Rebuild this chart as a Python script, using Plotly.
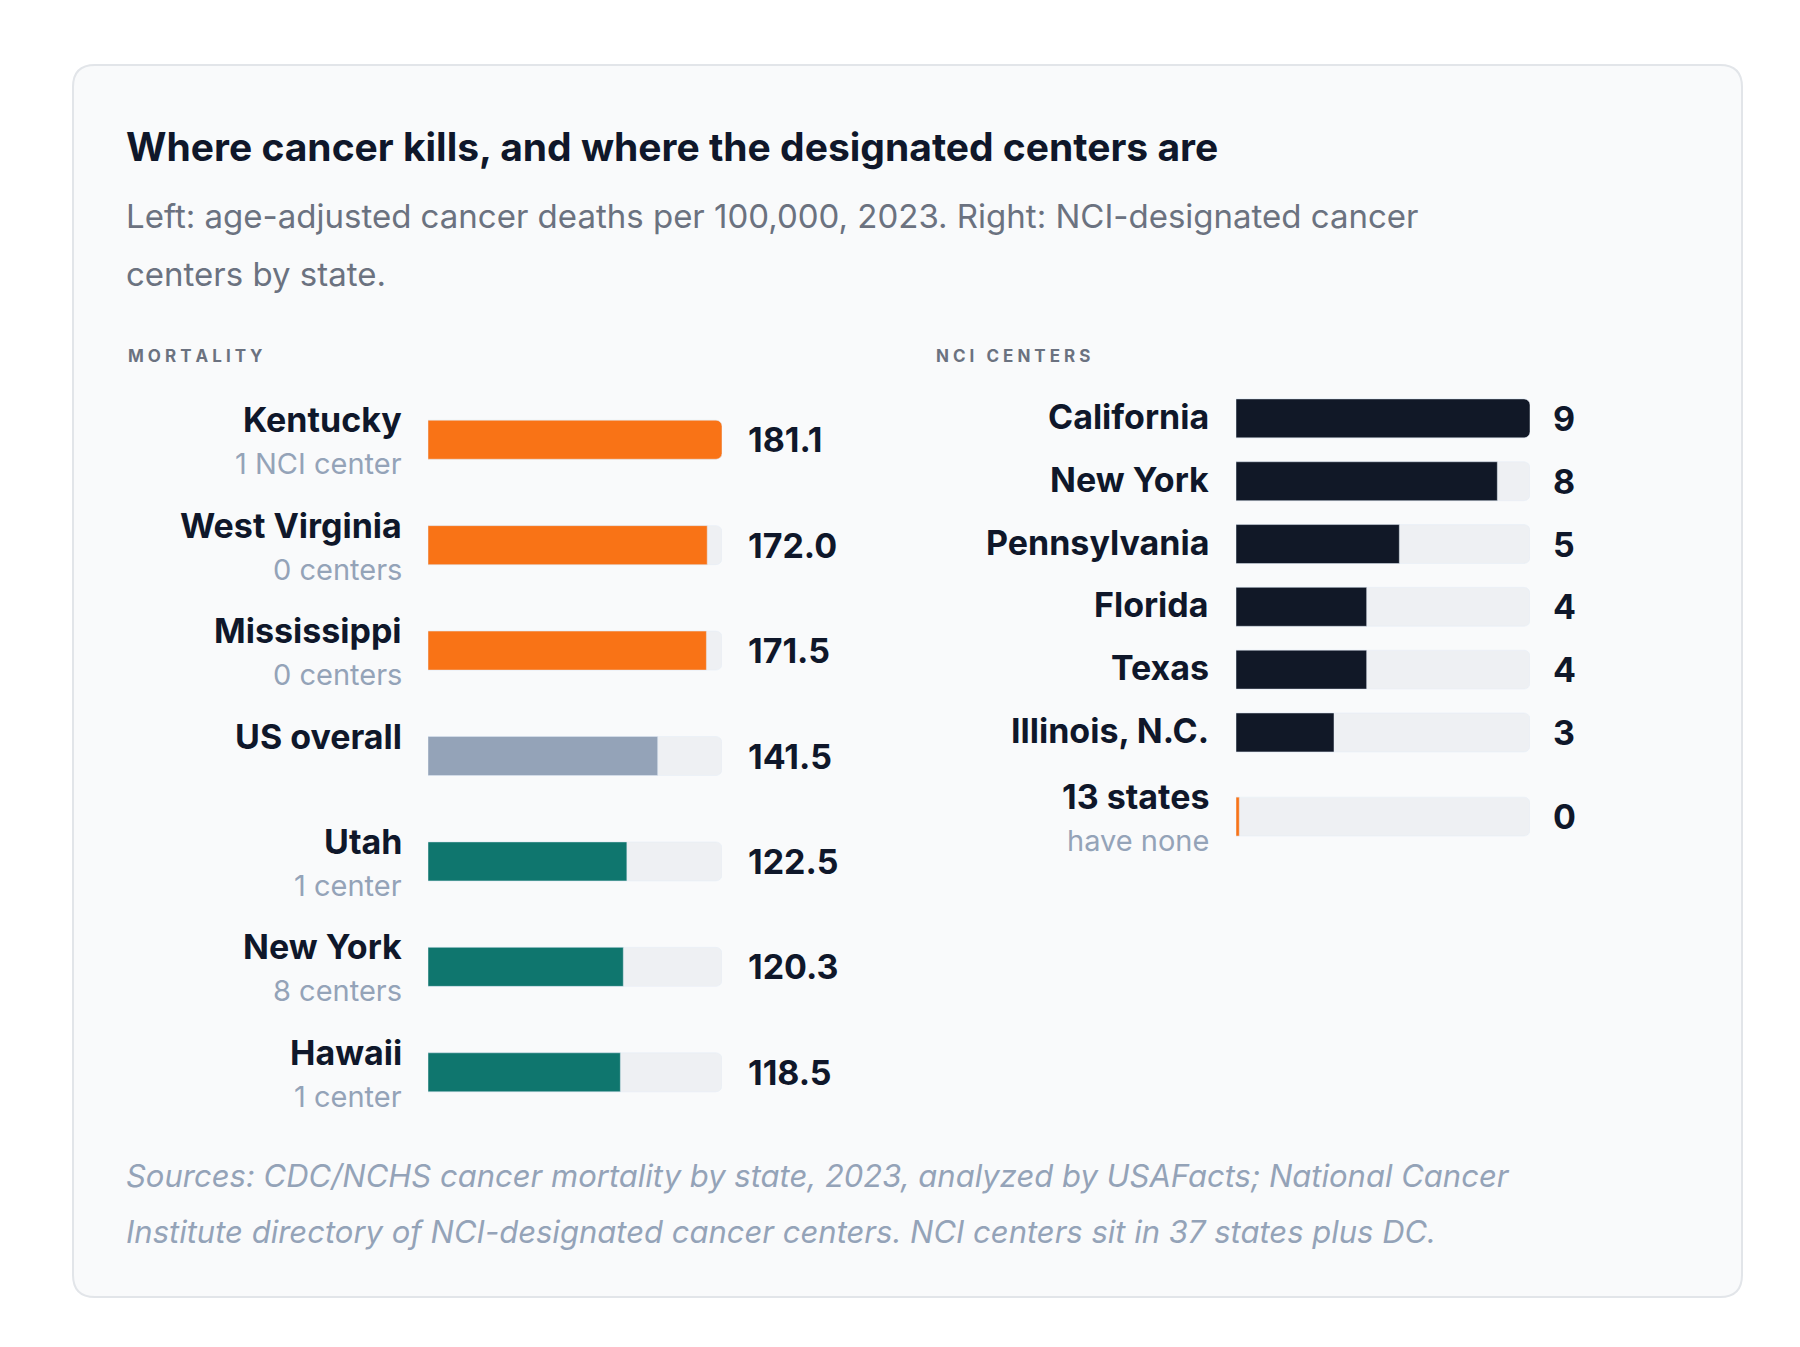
import plotly.graph_objects as go

W, H = 1800, 1347
F = "Inter, Noto Sans, sans-serif"

# ---- data ----
mort_states = ["Kentucky", "West Virginia", "Mississippi", "US overall", "Utah", "New York", "Hawaii"]
mort_sub = ["1 NCI center", "0 centers", "0 centers", "", "1 center", "8 centers", "1 center"]
mort_values = [181.1, 172.0, 171.5, 141.5, 122.5, 120.3, 118.5]
mort_groups = ["high", "high", "high", "us", "low", "low", "low"]

nci_states = ["California", "New York", "Pennsylvania", "Florida", "Texas", "Illinois, N.C.", "13 states"]
nci_sub = ["", "", "", "", "", "", "have none"]
nci_values = [9, 8, 5, 4, 4, 3, 0]
nci_max = 9

ORANGE, TEAL, GRAY, NAVY, TRACK = "#F97316", "#0F766E", "#94A3B8", "#111827", "#EEF0F3"
group_color = {"high": ORANGE, "us": GRAY, "low": TEAL}

def py(px):
    return 1 - px / H

fig = go.Figure()

# left panel
mort_max = max(mort_values)
fig.add_trace(go.Bar(x=[mort_max] * len(mort_states), y=mort_states, orientation="h",
                     marker=dict(color=TRACK, cornerradius=6), hoverinfo="skip",
                     xaxis="x", yaxis="y", showlegend=False))
fig.add_trace(go.Bar(x=mort_values, y=mort_states, orientation="h",
                     marker=dict(color=[group_color[g] for g in mort_groups], cornerradius=6),
                     xaxis="x", yaxis="y", showlegend=False))

# right panel positions: extra gap before last row
nci_pos = [i + (0.34 if i == len(nci_states) - 1 else 0) for i in range(len(nci_states))]
fig.add_trace(go.Bar(x=[nci_max] * len(nci_states), y=nci_pos, orientation="h", width=0.62,
                     marker=dict(color=TRACK, cornerradius=6), hoverinfo="skip",
                     xaxis="x2", yaxis="y2", showlegend=False))
nci_plot = [v if v > 0 else 0.1 for v in nci_values]
fig.add_trace(go.Bar(x=nci_plot, y=nci_pos, orientation="h", width=0.62,
                     marker=dict(color=[NAVY if v > 0 else ORANGE for v in nci_values], cornerradius=6),
                     xaxis="x2", yaxis="y2", showlegend=False))

ann = []
for s, sub, v in zip(mort_states, mort_sub, mort_values):
    off = -0.2 if sub else -0.2
    ann.append(dict(xref="paper", yref="y", x=396 / W, y=s, yshift=20, xanchor="right", yanchor="middle",
                    text=f"<b>{s}</b>", showarrow=False, font=dict(size=34, color="#0F172A", family=F)))
    if sub:
        ann.append(dict(xref="paper", yref="y", x=396 / W, y=s, yshift=-24, xanchor="right", yanchor="middle",
                        text=sub, showarrow=False, font=dict(size=29, color=GRAY, family=F)))
    ann.append(dict(xref="paper", yref="y", x=738 / W, y=s, xanchor="left", yanchor="middle",
                    text=f"<b>{v:.1f}</b>", showarrow=False, font=dict(size=34, color="#0F172A", family=F)))

for s, sub, v, p in zip(nci_states, nci_sub, nci_values, nci_pos):
    ann.append(dict(xref="paper", yref="y2", x=1203 / W, y=p, yshift=(20 if sub else 2), xanchor="right",
                    yanchor="middle", text=f"<b>{s}</b>", showarrow=False,
                    font=dict(size=34, color="#0F172A", family=F)))
    if sub:
        ann.append(dict(xref="paper", yref="y2", x=1203 / W, y=p, yshift=-24, xanchor="right", yanchor="middle",
                        text=sub, showarrow=False, font=dict(size=29, color=GRAY, family=F)))
    ann.append(dict(xref="paper", yref="y2", x=1543 / W, y=p, xanchor="left", yanchor="middle",
                    text=f"<b>{v}</b>", showarrow=False, font=dict(size=34, color="#0F172A", family=F)))

def txt(x, ypx, t, size, color, **kw):
    ann.append(dict(xref="paper", yref="paper", x=x / W, y=py(ypx), xanchor="left", yanchor="middle",
                    text=t, showarrow=False, font=dict(size=size, color=color, family=F), **kw))

txt(116, 139, "<b>Where cancer kills, and where the designated centers are</b>", 39, "#0F172A")
txt(116, 208, "Left: age-adjusted cancer deaths per 100,000, 2023. Right: NCI-designated cancer", 33, "#6B7280")
txt(116, 266, "centers by state.", 33, "#6B7280")
txt(118, 348, "<b>M O R T A L I T Y</b>", 17, "#6B7280")
txt(926, 348, "<b>N C I   C E N T E R S</b>", 17, "#6B7280")
txt(116, 1167, "<i>Sources: CDC/NCHS cancer mortality by state, 2023, analyzed by USAFacts; National Cancer</i>", 31, GRAY)
txt(116, 1223, "<i>Institute directory of NCI-designated cancer centers. NCI centers sit in 37 states plus DC.</i>", 31, GRAY)

# card
x0, x1, y0, y1, r = 65 / W, 1734 / W, py(57), py(1289), 22
rx, ry = r / W, r / H
path = (f"M {x0+rx},{y0} L {x1-rx},{y0} Q {x1},{y0} {x1},{y0-ry} L {x1},{y1+ry} Q {x1},{y1} {x1-rx},{y1} "
        f"L {x0+rx},{y1} Q {x0},{y1} {x0},{y1+ry} L {x0},{y0-ry} Q {x0},{y0} {x0+rx},{y0} Z")

fig.update_layout(
    width=W, height=H, margin=dict(l=0, r=0, t=0, b=0),
    paper_bgcolor="white", plot_bgcolor="rgba(0,0,0,0)",
    barmode="overlay", bargap=0.63, annotations=ann,
    shapes=[dict(type="path", path=path, xref="paper", yref="paper", fillcolor="#F9FAFB",
                 line=dict(color="#E2E5E9", width=2), layer="below")],
    xaxis=dict(domain=[420 / W, 714 / W], range=[0, mort_max], visible=False, fixedrange=True),
    yaxis=dict(domain=[py(1117), py(379)], autorange="reversed", visible=False, type="category"),
    xaxis2=dict(domain=[1228 / W, 1522 / W], range=[0, nci_max], visible=False, anchor="y2"),
    yaxis2=dict(domain=[py(840), py(379)], range=[6.84, -0.5], visible=False, anchor="x2"),
)
fig.write_html("out.html")
